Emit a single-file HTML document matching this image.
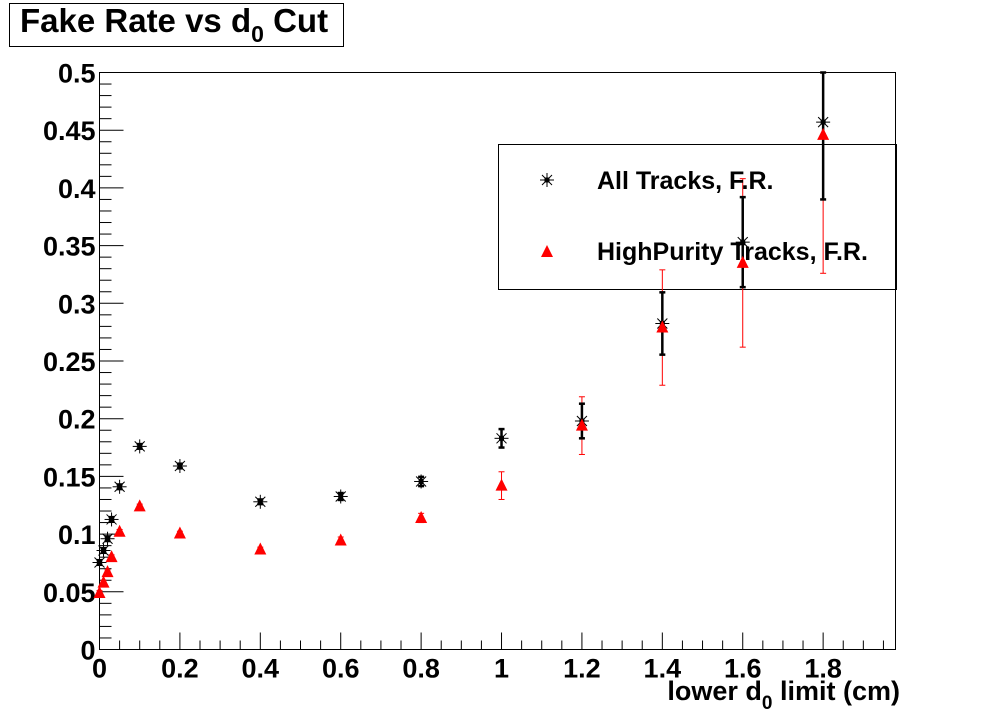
<!DOCTYPE html>
<html><head><meta charset="utf-8"><style>
body{margin:0;background:#fff;}
svg{display:block;font-family:"Liberation Sans",Arial,sans-serif;font-weight:bold;}
</style></head><body>
<svg id="c" width="996" height="722" xmlns="http://www.w3.org/2000/svg">
<rect x="0" y="0" width="996" height="722" fill="#fff"/>
<g>
<rect x="9.5" y="3.5" width="334" height="43" fill="#fff" stroke="#000" stroke-width="1"/>
<text x="20" y="32" font-size="33">Fake Rate vs d<tspan font-size="23" dy="10">0</tspan><tspan dy="-10"> Cut</tspan></text>
</g>
<rect x="99.5" y="72.5" width="796" height="577" fill="none" stroke="#000" stroke-width="1"/>
<g>
<rect x="498.5" y="144.5" width="398" height="145" fill="none" stroke="#000" stroke-width="1"/>
</g>
<g id="axes"></g>
<g id="marks"></g>
<g>
<g id="leg"></g>
<text x="597" y="189" font-size="25">All Tracks, F.R.</text>
<text x="597" y="260" font-size="25">HighPurity Tracks, F.R.</text>
</g>
<text x="900" y="700" font-size="27" text-anchor="end">lower d<tspan font-size="19" dy="9">0</tspan><tspan dy="-9"> limit (cm)</tspan></text>
</svg>
<script>
const xCuts=[0,0.01,0.02,0.03,0.05,0.1,0.2,0.4,0.6,0.8,1.0,1.2,1.4,1.6,1.8];
const allRate=[0.0754,0.0858,0.096,0.1127,0.141,0.176,0.159,0.128,0.1326,0.1456,0.183,0.198,0.2825,0.353,0.457];
const allErr=[0.002,0.002,0.002,0.002,0.002,0.002,0.002,0.002,0.003,0.004,0.008,0.015,0.027,0.039,0.067];
const hpRate=[0.049,0.058,0.067,0.080,0.102,0.124,0.1005,0.0867,0.0945,0.114,0.142,0.194,0.279,0.335,0.446];
const hpErr=[0.002,0.002,0.002,0.002,0.002,0.002,0.002,0.002,0.003,0.004,0.012,0.025,0.05,0.073,0.12];
const xTicks=["0","0.2","0.4","0.6","0.8","1","1.2","1.4","1.6","1.8"];
const yTicks=["0","0.05","0.1","0.15","0.2","0.25","0.3","0.35","0.4","0.45","0.5"];
const NS="http://www.w3.org/2000/svg";
const X0=99.5,Y0=649.5,X1=895.5,Y1=72.5,xmax=1.98,ymax=0.5;
const sx=v=>X0+v/xmax*(X1-X0);
const sy=v=>Y0-Math.min(v,ymax)/ymax*(Y0-Y1);
function mk(t,a,p){const e=document.createElementNS(NS,t);for(const k in a)e.setAttribute(k,a[k]);p.appendChild(e);return e;}
const ax=document.getElementById('axes');
for(let i=0;i<=39;i++){const v=i*0.05;if(v>xmax)break;const x=sx(v);const maj=i%4===0;
 const l=mk('line',{x1:x,x2:x,y1:Y0,y2:Y0-(maj?17:9),stroke:'#000','stroke-width':1},ax);
 
 }
xTicks.forEach(s=>{const t=mk('text',{x:sx(parseFloat(s)),y:Y0+28,'font-size':27,'text-anchor':'middle'},ax);t.textContent=s;
 
 });
for(let i=0;i<=50;i++){const v=i*0.01;const y=sy(v);const maj=i%5===0;
 const l=mk('line',{x1:X0,x2:X0+(maj?24:12),y1:y,y2:y,stroke:'#000','stroke-width':1},ax);
 
 }
yTicks.forEach(s=>{const t=mk('text',{x:X0-4,y:sy(parseFloat(s))+10,'font-size':27,'text-anchor':'end'},ax);t.textContent=s;
 
 });
const mg=document.getElementById('marks');
function star(x,y,p){const g=mk('g',{stroke:'#000','stroke-width':1},p);const r=7;
 mk('line',{x1:x-r,x2:x+r,y1:y,y2:y},g);mk('line',{x1:x,x2:x,y1:y-r,y2:y+r},g);
 mk('line',{x1:x-5,x2:x+5,y1:y-5,y2:y+5},g);mk('line',{x1:x-5,x2:x+5,y1:y+5,y2:y-5},g);
 mk('rect',{x:x-2,y:y-2,width:4,height:4,fill:'#000'},g);return g;}
function tri(x,y,p){return mk('polygon',{points:`${x-6},${y+5} ${x+6},${y+5} ${x},${y-7}`,fill:'#f00'},p);}
function ebar(x,v,e,col,w,p){const g=mk('g',{stroke:col,'stroke-width':w},p);const a=sy(v+e),b=sy(v-e);
 mk('line',{x1:x,x2:x,y1:a,y2:b},g);mk('line',{x1:x-3,x2:x+3,y1:a,y2:a},g);mk('line',{x1:x-3,x2:x+3,y1:b,y2:b},g);return g;}
xCuts.forEach((c,i)=>{const x=sx(c);
 const e=ebar(x,hpRate[i],hpErr[i],'#f00',1,mg);
 
 });
xCuts.forEach((c,i)=>{const x=sx(c);
 const e=ebar(x,allRate[i],allErr[i],'#000',2.5,mg);
 
 });
xCuts.forEach((c,i)=>{const x=sx(c);
 const s=star(x,sy(allRate[i]),mg);
 
 
 const t=tri(x,sy(hpRate[i]),mg);
 
 });
const lg=document.getElementById('leg');
const ls=star(547,180,lg);


const lt=tri(547,252,lg);


</script>
</body></html>
